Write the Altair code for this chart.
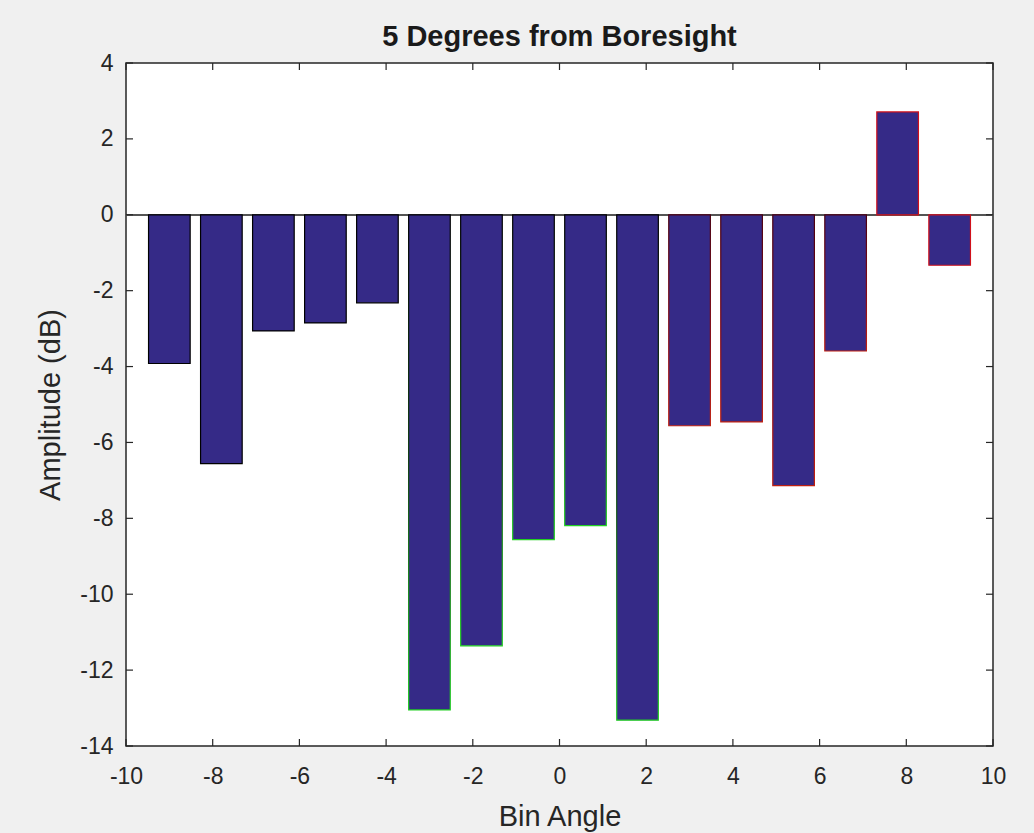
import altair as alt
import pandas as pd

# ---- data ----
bin_angles = [-9.0, -7.8, -6.6, -5.4, -4.2, -3.0, -1.8, -0.6,
              0.6, 1.8, 3.0, 4.2, 5.4, 6.6, 7.8, 9.0]
amplitudes = [-3.92, -6.56, -3.06, -2.85, -2.32, -13.05, -11.36, -8.56,
              -8.19, -13.32, -5.56, -5.46, -7.14, -3.59, 2.71, -1.33]
edge_groups = ["A"] * 5 + ["B"] * 5 + ["C"] * 4 + ["D"] * 2
x_ticks = [-10, -8, -6, -4, -2, 0, 2, 4, 6, 8, 10]
y_ticks = [-14, -12, -10, -8, -6, -4, -2, 0, 2, 4]
title_text = "5 Degrees from Boresight"
x_title = "Bin Angle"
y_title = "Amplitude (dB)"

df = pd.DataFrame({"angle": bin_angles, "amp": amplitudes, "grp": edge_groups})
xt = pd.DataFrame({"t": x_ticks})
yt = pd.DataFrame({"t": y_ticks})

W, H = 867, 683
FONT = "Liberation Sans"
AX = "#262626"
FILL = "#352a87"

xs = alt.Scale(domain=[-10, 10], nice=False, zero=False)
ys = alt.Scale(domain=[-14, 4], nice=False, zero=False)

base = alt.Chart(df).transform_calculate(
    x0="datum.angle - 0.48", x1="datum.angle + 0.48"
)

def bars(group, stroke):
    return base.transform_filter(alt.datum.grp == group).mark_bar(
        fill=FILL, stroke=stroke, strokeWidth=1.2
    ).encode(
        x=alt.X("x0:Q", scale=xs,
                axis=alt.Axis(values=x_ticks, title=x_title, grid=False, ticks=False,
                              domain=False, tickSize=0, labelPadding=19,
                              titlePadding=14, labelFlush=False,
                              labelExpr="datum.value + ''")),
        x2="x1:Q",
        y=alt.Y("amp:Q", scale=ys,
                axis=alt.Axis(values=y_ticks, title=y_title, grid=False, ticks=False,
                              domain=False, tickSize=0, labelPadding=13,
                              titlePadding=14, labelFlush=False,
                              labelExpr="datum.value + ''")),
        y2=alt.datum(0),
    )

grad_green = alt.LinearGradient(
    gradient="linear", x1=0, y1=0, x2=0, y2=1,
    stops=[alt.GradientStop(color="#000000", offset=0),
           alt.GradientStop(color="#0d3d0d", offset=0.5),
           alt.GradientStop(color="#22d022", offset=1)])
grad_red = alt.LinearGradient(
    gradient="linear", x1=0, y1=0, x2=0, y2=1,
    stops=[alt.GradientStop(color="#4a0010", offset=0),
           alt.GradientStop(color="#8a0a14", offset=0.6),
           alt.GradientStop(color="#c02010", offset=1)])

baseline = alt.Chart(df).mark_rule(color="#555555", strokeWidth=1.2).encode(
    y=alt.datum(0, scale=ys), x=alt.value(0), x2=alt.value(W)
)

TL = 7
xtick_b = alt.Chart(xt).mark_rule(color=AX, strokeWidth=1.2).encode(
    x=alt.X("t:Q", scale=xs), y=alt.value(H), y2=alt.value(H - TL))
xtick_t = alt.Chart(xt).mark_rule(color=AX, strokeWidth=1.2).encode(
    x=alt.X("t:Q", scale=xs), y=alt.value(0), y2=alt.value(TL))
ytick_l = alt.Chart(yt).mark_rule(color=AX, strokeWidth=1.2).encode(
    y=alt.Y("t:Q", scale=ys), x=alt.value(0), x2=alt.value(TL))
ytick_r = alt.Chart(yt).mark_rule(color=AX, strokeWidth=1.2).encode(
    y=alt.Y("t:Q", scale=ys), x=alt.value(W), x2=alt.value(W - TL))

chart = alt.layer(
    baseline,
    bars("A", "#000000"),
    bars("B", grad_green),
    bars("C", grad_red),
    bars("D", "#d0101a"),
    xtick_b, xtick_t, ytick_l, ytick_r,
).properties(
    width=W, height=H,
    title=alt.TitleParams(title_text, font=FONT, fontSize=29, fontWeight="bold",
                          color="#1a1a1a", offset=0),
    background="#f0f0f0",
    autosize=alt.AutoSizeParams(type="none"),
    padding={"left": 126, "top": 63, "right": 41, "bottom": 87},
).configure_view(
    fill="white", stroke=AX, strokeWidth=1.5
).configure_axis(
    labelFont=FONT, labelFontSize=23, labelColor=AX,
    titleFont=FONT, titleFontSize=29, titleColor=AX, titleFontWeight="normal",
)

chart.save("out.html", embed_options={"renderer": "svg", "actions": False})
